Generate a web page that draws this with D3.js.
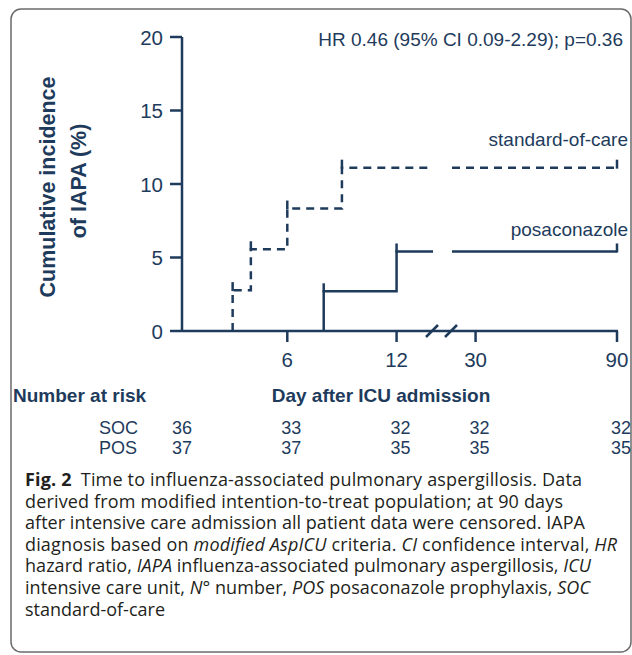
<!DOCTYPE html>
<html>
<head>
<meta charset="utf-8">
<script src="https://cdn.jsdelivr.net/npm/d3@7"></script>
<style>
  body { margin: 0; background: #fff; }
  svg { display: block; }
</style>
</head>
<body>
<div id="chart"></div>
<script>
// cumulative incidence (%) at each event day
var socDays = [3, 4, 6, 9],
    socCum = [2.78, 5.56, 8.33, 11.11],
    posDays = [8, 12],
    posCum = [2.70, 5.41];

var xTicks = [6, 12, 30, 90],
    yTicks = [0, 5, 10, 15, 20];

var riskDays = [0, 6, 12, 30, 90],
    riskGroups = ['SOC', 'POS'],
    socRisk = [36, 33, 32, 32, 32],
    posRisk = [37, 37, 35, 35, 35];

var breakDays = [14, 20],
    endDay = 90;

var captionLines = [
    [['b', 'Fig. 2'], ['n', '\u2002Time to influenza-associated pulmonary aspergillosis. Data']],
    [['n', 'derived from modified intention-to-treat population; at 90 days']],
    [['n', 'after intensive care admission all patient data were censored. IAPA']],
    [['n', 'diagnosis based on '], ['i', 'modified AspICU'], ['n', ' criteria. '], ['i', 'CI'], ['n', ' confidence interval, '], ['i', 'HR']],
    [['n', 'hazard ratio, '], ['i', 'IAPA'], ['n', ' influenza-associated pulmonary aspergillosis, '], ['i', 'ICU']],
    [['n', 'intensive care unit, '], ['i', 'N\u00b0'], ['n', ' number, '], ['i', 'POS'], ['n', ' posaconazole prophylaxis, '], ['i', 'SOC']],
    [['n', 'standard-of-care']]
];
// right end of each caption line in the reference
var captionEnds = [582, 563, 585, 617, 591, 590, 165];

var W = 632, H = 655;
var navy = '#1e3b5c';
var font = '"Liberation Sans", Arial, Helvetica, sans-serif';

var svg = d3.select('#chart').append('svg')
    .attr('width', W)
    .attr('height', H);

/* frame */
svg.append('rect')
    .attr('x', 11).attr('y', 9)
    .attr('width', 620).attr('height', 643)
    .attr('rx', 10)
    .attr('fill', 'none')
    .attr('stroke', '#6b6b6b')
    .attr('stroke-width', 1.5);

/* scales - broken x axis between 14 and 20 days */
var x = d3.scaleLinear()
    .domain([0, breakDays[0], breakDays[1], endDay])
    .range([178, 433, 452, 617]);

var y = d3.scaleLinear()
    .domain([0, 20])
    .range([331, 37]);

var axisX = 182;

var g = svg.append('g')
    .attr('fill', navy)
    .style('font-family', font);

/* y axis */
g.append('line')
    .attr('x1', axisX).attr('x2', axisX)
    .attr('y1', y(20)).attr('y2', y(0))
    .attr('stroke', navy).attr('stroke-width', 2.5);

g.selectAll('.ytick').data(yTicks)
    .enter().append('line')
    .attr('x1', axisX - 12).attr('x2', axisX)
    .attr('y1', function(d) { return y(d); })
    .attr('y2', function(d) { return y(d); })
    .attr('stroke', navy).attr('stroke-width', 2.5);

g.selectAll('.ylab').data(yTicks)
    .enter().append('text')
    .attr('x', axisX - 19)
    .attr('y', function(d) { return y(d) + 7.5; })
    .attr('text-anchor', 'end')
    .style('font-size', '20.5px')
    .text(function(d) { return d; });

/* x axis */
g.append('line')
    .attr('x1', axisX).attr('x2', x(endDay) + 1)
    .attr('y1', y(0)).attr('y2', y(0))
    .attr('stroke', navy).attr('stroke-width', 2.5);

g.selectAll('.xtick').data(xTicks)
    .enter().append('line')
    .attr('x1', function(d) { return x(d); })
    .attr('x2', function(d) { return x(d); })
    .attr('y1', y(0)).attr('y2', y(0) + 11)
    .attr('stroke', navy).attr('stroke-width', 2.5);

g.selectAll('.xlab').data(xTicks)
    .enter().append('text')
    .attr('x', function(d) { return x(d); })
    .attr('y', y(0) + 36)
    .attr('text-anchor', 'middle')
    .style('font-size', '20.5px')
    .text(function(d) { return d; });

/* break marks */
g.selectAll('.brk').data([x(breakDays[0]) - 1, x(breakDays[1]) - 1])
    .enter().append('line')
    .attr('x1', function(d) { return d - 6; })
    .attr('x2', function(d) { return d + 6; })
    .attr('y1', y(0) + 6).attr('y2', y(0) - 6)
    .attr('stroke', navy).attr('stroke-width', 2.5);

/* step curves */
var stepPath = function(days, cum) {
    var p = d3.path();
    p.moveTo(x(days[0]), y(0));
    days.forEach(function(d, i) {
        if (i > 0) p.lineTo(x(d), y(cum[i - 1]));
        p.lineTo(x(d), y(cum[i]));
    });
    var last = cum[cum.length - 1];
    p.lineTo(x(breakDays[0]), y(last));
    p.moveTo(x(breakDays[1]), y(last));
    p.lineTo(x(endDay), y(last));
    return p.toString();
};

var curves = [
    { days: socDays, cum: socCum, dash: '8,6' },
    { days: posDays, cum: posCum, dash: null }
];

curves.forEach(function(c) {
    g.append('path')
        .attr('d', stepPath(c.days, c.cum))
        .attr('fill', 'none')
        .attr('stroke', navy)
        .attr('stroke-width', 2.5)
        .attr('stroke-dasharray', c.dash);

    // censor marks at event days and at the end of follow-up
    var marks = c.days.map(function(d, i) { return [d, c.cum[i]]; });
    marks.push([endDay, c.cum[c.cum.length - 1]]);
    g.selectAll(null).data(marks)
        .enter().append('line')
        .attr('x1', function(d) { return x(d[0]); })
        .attr('x2', function(d) { return x(d[0]); })
        .attr('y1', function(d) { return y(d[1]) + 1; })
        .attr('y2', function(d) { return y(d[1]) - 8; })
        .attr('stroke', navy).attr('stroke-width', 2.5);
});

/* labels */
g.append('text')
    .attr('x', 623).attr('y', 46)
    .attr('text-anchor', 'end')
    .style('font-size', '19px')
    .text('HR 0.46 (95% CI 0.09-2.29); p=0.36');

g.append('text')
    .attr('x', 628).attr('y', 146)
    .attr('text-anchor', 'end')
    .style('font-size', '19px')
    .text('standard-of-care');

g.append('text')
    .attr('x', 628).attr('y', 236)
    .attr('text-anchor', 'end')
    .style('font-size', '19px')
    .text('posaconazole');

g.append('text')
    .attr('transform', 'translate(55,187) rotate(-90)')
    .attr('text-anchor', 'middle')
    .style('font-size', '21.5px')
    .style('font-weight', 'bold')
    .text('Cumulative incidence');

g.append('text')
    .attr('transform', 'translate(86,181) rotate(-90)')
    .attr('text-anchor', 'middle')
    .style('font-size', '21.5px')
    .style('font-weight', 'bold')
    .text('of IAPA (%)');

g.append('text')
    .attr('x', 13).attr('y', 402)
    .style('font-size', '19px')
    .style('font-weight', 'bold')
    .text('Number at risk');

g.append('text')
    .attr('x', 381).attr('y', 402)
    .attr('text-anchor', 'middle')
    .style('font-size', '19px')
    .style('font-weight', 'bold')
    .text('Day after ICU admission');

/* risk table */
var riskRows = [socRisk, posRisk];
riskRows.forEach(function(row, r) {
    var ry = 434 + r * 20;
    g.append('text')
        .attr('x', 99).attr('y', ry)
        .style('font-size', '18px')
        .text(riskGroups[r]);
    g.selectAll(null).data(row)
        .enter().append('text')
        .attr('x', function(d, i) { return x(riskDays[i]) + 4; })
        .attr('y', ry)
        .attr('text-anchor', 'middle')
        .style('font-size', '18px')
        .text(function(d) { return d; });
});

/* caption - one text element per line, stretched to the reference width */
var cap = svg.append('g')
    .attr('fill', '#231f20')
    .style('font-family', '"Open Sans", "Noto Sans", sans-serif')
    .style('font-size', '18px');

captionLines.forEach(function(line, i) {
    var t = cap.append('text')
        .attr('x', 25)
        .attr('y', 486 + i * 21.6)
        .attr('textLength', captionEnds[i] - 25)
        .attr('lengthAdjust', 'spacing');
    line.forEach(function(part) {
        t.append('tspan')
            .style('font-weight', part[0] === 'b' ? 'bold' : 'normal')
            .style('font-style', part[0] === 'i' ? 'italic' : 'normal')
            .text(part[1]);
    });
});
</script>
</body>
</html>
